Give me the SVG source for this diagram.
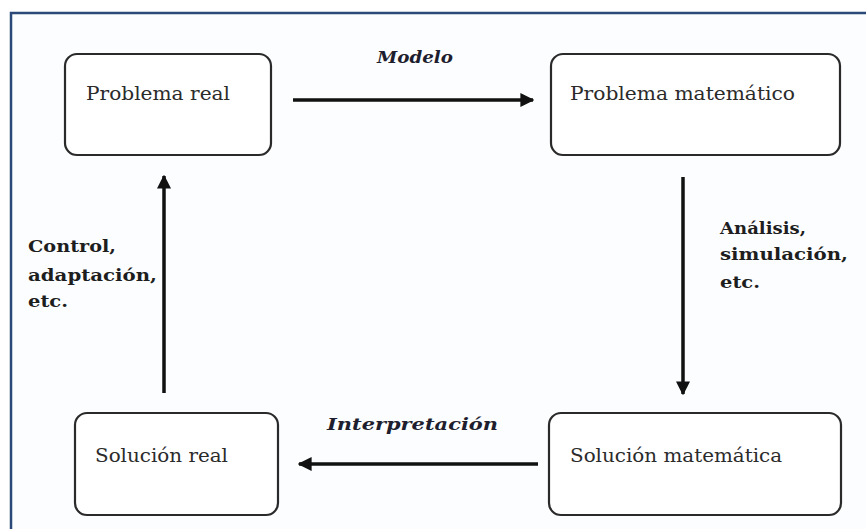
<svg xmlns="http://www.w3.org/2000/svg" width="866" height="529" viewBox="0 0 866 529">
  <defs>
    <marker id="head" viewBox="0 0 10 10" refX="9" refY="5" markerWidth="4" markerHeight="4" markerUnits="strokeWidth" orient="auto">
      <path d="M0,0 L10,5 L0,10 Z" fill="#111"/>
    </marker>
  </defs>
  <style>
    .frame { fill: #fbfdfe; stroke: none; }
    .edge { stroke: #2a4878; stroke-width: 2.5; fill: none; }
    .box { fill: #ffffff; stroke: #2a2a2a; stroke-width: 2.2; }
    .name { font-family: "DejaVu Serif", "Liberation Serif", serif; font-size: 18px; fill: #2b2b2b; }
    .tag { font-family: "DejaVu Serif", "Liberation Serif", serif; font-size: 17px; font-weight: bold; fill: #1e1e1e; }
    .tagi { font-family: "DejaVu Serif", "Liberation Serif", serif; font-size: 17px; font-weight: bold; font-style: italic; fill: #1e1e2e; }
    .link { stroke: #111; stroke-width: 3.5; fill: none; marker-end: url(#head); }
  </style>

  <rect x="0" y="0" width="866" height="529" fill="#ffffff"/>
  <rect class="frame" x="11" y="13" width="855" height="516"/>
  <path class="edge" d="M11,529 L11,13 L866,13"/>

  <g id="problema-real">
    <rect class="box" x="65" y="54" width="206" height="101" rx="12"/>
    <text class="name" x="86" y="100" textLength="144" lengthAdjust="spacingAndGlyphs">Problema real</text>
  </g>

  <g id="problema-matematico">
    <rect class="box" x="551" y="54" width="289" height="101" rx="12"/>
    <text class="name" x="570" y="100" textLength="225" lengthAdjust="spacingAndGlyphs">Problema matemático</text>
  </g>

  <g id="solucion-matematica">
    <rect class="box" x="549" y="413" width="292" height="102" rx="12"/>
    <text class="name" x="570" y="462" textLength="212" lengthAdjust="spacingAndGlyphs">Solución matemática</text>
  </g>

  <g id="solucion-real">
    <rect class="box" x="75" y="413" width="203" height="102" rx="12"/>
    <text class="name" x="95" y="462" textLength="133" lengthAdjust="spacingAndGlyphs">Solución real</text>
  </g>

  <g id="connectors">
    <line class="link" x1="293" y1="100" x2="533" y2="100"/>
    <line class="link" x1="683" y1="177" x2="683" y2="394"/>
    <line class="link" x1="538" y1="464" x2="299" y2="464"/>
    <line class="link" x1="164" y1="393" x2="164" y2="176"/>
  </g>

  <g id="labels">
    <text class="tagi" x="377" y="63" textLength="76" lengthAdjust="spacingAndGlyphs">Modelo</text>
    <text class="tag" x="720" y="234" textLength="86" lengthAdjust="spacingAndGlyphs">Análisis,</text>
    <text class="tag" x="720" y="260" textLength="128" lengthAdjust="spacingAndGlyphs">simulación,</text>
    <text class="tag" x="720" y="288" textLength="40" lengthAdjust="spacingAndGlyphs">etc.</text>
    <text class="tagi" x="327" y="430" textLength="171" lengthAdjust="spacingAndGlyphs">Interpretación</text>
    <text class="tag" x="28" y="252" textLength="88" lengthAdjust="spacingAndGlyphs">Control,</text>
    <text class="tag" x="28" y="281" textLength="129" lengthAdjust="spacingAndGlyphs">adaptación,</text>
    <text class="tag" x="28" y="307" textLength="40" lengthAdjust="spacingAndGlyphs">etc.</text>
  </g>
</svg>
